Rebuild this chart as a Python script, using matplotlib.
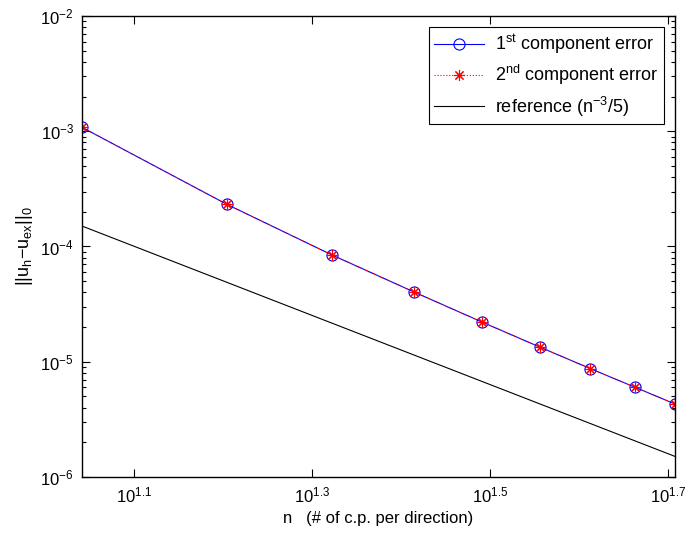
import numpy as np
import matplotlib
matplotlib.use("Agg")
import matplotlib.pyplot as plt
from matplotlib.ticker import NullLocator, LogLocator, NullFormatter

plt.rcParams['font.family'] = ['Liberation Sans', 'DejaVu Sans']
plt.rcParams['mathtext.default'] = 'regular'
plt.rcParams['font.size'] = 12

# number of control points per direction
n = [11, 16, 21, 26, 31, 36, 41, 46, 51]
# L2 errors
err1 = [1.08e-3, 2.32e-4, 8.44e-5, 4.01e-5, 2.20e-5, 1.334e-5, 8.70e-6, 6.00e-6, 4.30e-6]
err2 = [1.08e-3, 2.32e-4, 8.44e-5, 4.01e-5, 2.20e-5, 1.334e-5, 8.70e-6, 6.00e-6, 4.30e-6]

xtick_exp = [1.1, 1.3, 1.5, 1.7]
ytick_exp = [-2, -3, -4, -5, -6]

n_arr = np.array(n, dtype=float)
ref = n_arr**-3 / 5

fig = plt.figure(figsize=(6.85, 5.37), dpi=100)
ax = fig.add_axes([0.12, 0.112, 0.865, 0.858])

ax.plot(n, err1, '-', color='blue', lw=0.8, marker='o', ms=8,
        mfc='none', mec='blue', mew=0.8, label='1$^{st}$ component error')
ax.plot(n, err2, ':', color='red', lw=0.8, marker=(8, 2, 0), ms=8,
        mec='red', mew=0.8, label='2$^{nd}$ component error')
ax.plot(n, ref, '-', color='black', lw=0.8, label='reference (n$^{-3}$/5)')

ax.set_xscale('log')
ax.set_yscale('log')
ax.set_xlim(n[0], n[-1])
ax.set_ylim(1e-6, 1e-2)

ax.set_xticks([10**e for e in xtick_exp])
ax.set_xticklabels(['$10^{%g}$' % e for e in xtick_exp])
ax.xaxis.set_minor_locator(NullLocator())
ax.set_yticks([10.0**e for e in ytick_exp])
ax.set_yticklabels(['$10^{%d}$' % e for e in ytick_exp])
ax.yaxis.set_minor_locator(LogLocator(base=10, subs=np.arange(2, 10)))
ax.yaxis.set_minor_formatter(NullFormatter())

ax.tick_params(which='both', direction='in', top=True, right=True, width=0.8)
ax.tick_params(which='major', length=6, pad=6)
ax.tick_params(which='minor', length=3)
for s in ax.spines.values():
    s.set_linewidth(1.0)

ax.set_xlabel('n   (# of c.p. per direction)')
ax.set_ylabel('$||u_h{-}u_{ex}||_0$', fontsize=13)

leg = ax.legend(loc='upper right', fancybox=False, framealpha=1,
                edgecolor='black', handlelength=2.75, handletextpad=0.6,
                borderaxespad=0.6, labelspacing=0.4, borderpad=0.3,
                prop={'size': 13})
leg.get_frame().set_linewidth(0.8)

fig.savefig('out.png', dpi=100)
